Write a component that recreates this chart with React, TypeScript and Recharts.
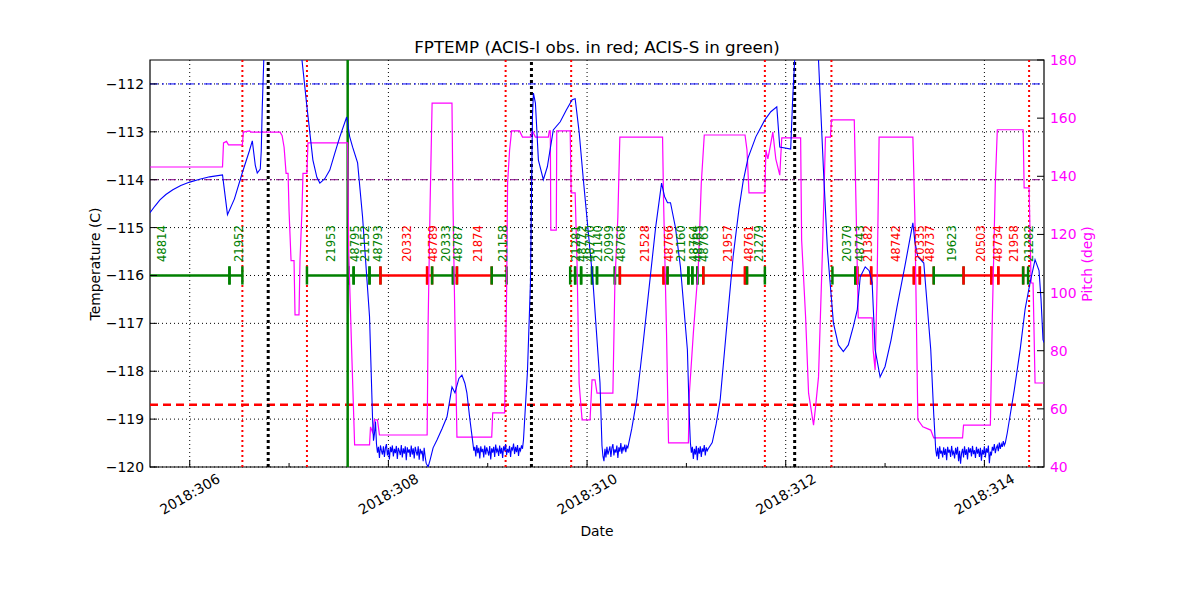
import React from "react"
import {
  ComposedChart, Line, XAxis, YAxis, CartesianGrid, ReferenceLine, ReferenceArea, Scatter,
} from "recharts"

const X_MIN = 305.6
const X_MAX = 314.6
const T_MIN = -120
const T_MAX = -111.5
const BAR_Y = -116
const FONT = "'DejaVu Sans', sans-serif"

const dayTicks = [306, 307, 308, 309, 310, 311, 312, 313, 314]
const gridDays = [306, 308, 310, 312, 314]
const tempTicks = [-120, -119, -118, -117, -116, -115, -114, -113, -112]
const pitchTicks = [40, 60, 80, 100, 120, 140, 160, 180]

// FPTEMP trace, [day of year, deg C]
const tempRise1: [number, number][] = [
  [305.60, -114.69], [305.65, -114.55], [305.70, -114.42], [305.76, -114.31], [305.83, -114.21],
  [305.91, -114.12], [306.00, -114.05], [306.10, -113.99], [306.20, -113.94], [306.33, -113.90],
  [306.38, -114.73], [306.45, -114.40], [306.53, -113.85], [306.60, -113.40], [306.63, -113.19],
  [306.66, -113.70], [306.68, -113.86], [306.71, -113.78], [306.72, -113.40], [306.73, -112.5],
  [306.75, -111.2], [306.77, -110.0], [307.11, -110.0], [307.13, -111.5], [307.18, -112.48],
  [307.24, -113.59], [307.28, -113.95], [307.31, -114.07], [307.36, -113.98], [307.41, -113.80],
  [307.46, -113.45], [307.51, -113.11], [307.58, -112.69], [307.61, -113.10], [307.64, -113.32],
  [307.69, -113.65], [307.74, -114.78], [307.81, -116.86], [307.84, -118.95], [307.85, -119.45],
  [307.86, -119.30], [307.87, -119.05],
]
const tempBump: [number, number][] = [
  [308.40, -120.0], [308.42, -119.85], [308.45, -119.60], [308.49, -119.43], [308.54, -119.20],
  [308.59, -118.95], [308.64, -118.33], [308.67, -118.45], [308.71, -118.15], [308.74, -118.08],
  [308.77, -118.25], [308.79, -118.45], [308.82, -119.00],
]
const tempRise2: [number, number][] = [
  [309.36, -119.43], [309.40, -118.0], [309.43, -116.15], [309.45, -112.69], [309.46, -112.19],
  [309.48, -112.40], [309.51, -113.59], [309.56, -114.00], [309.60, -113.73], [309.66, -112.96],
  [309.73, -112.79], [309.79, -112.55], [309.85, -112.33], [309.88, -112.31], [309.92, -113.00],
  [309.96, -113.94], [310.06, -116.15], [310.13, -118.24],
]
const tempRise3: [number, number][] = [
  [310.45, -119.20], [310.50, -118.60], [310.56, -117.50], [310.63, -116.15], [310.69, -115.00],
  [310.75, -114.07], [310.78, -114.35], [310.81, -114.48], [310.84, -114.48], [310.89, -115.00],
  [310.94, -115.82], [311.01, -117.55], [311.03, -119.00],
]
const tempRise4: [number, number][] = [
  [311.26, -119.49], [311.30, -119.10], [311.34, -118.60], [311.40, -117.20], [311.47, -115.61],
  [311.53, -114.60], [311.57, -114.05], [311.62, -113.55], [311.70, -113.10], [311.79, -112.75],
  [311.85, -112.58], [311.91, -112.48], [311.94, -113.32], [312.05, -113.36], [312.07, -112.30],
  [312.09, -111.5], [312.11, -110.0], [312.31, -110.0], [312.33, -111.5], [312.38, -113.80],
  [312.42, -115.47], [312.48, -116.99], [312.53, -117.45], [312.58, -117.59], [312.63, -117.45],
  [312.68, -117.07], [312.72, -116.72], [312.75, -116.03], [312.80, -115.82], [312.84, -115.90],
  [312.87, -116.15], [312.90, -117.55], [312.95, -118.12], [313.00, -117.90], [313.06, -117.35],
  [313.12, -116.66], [313.20, -115.80], [313.28, -114.90], [313.30, -115.30], [313.33, -115.61],
  [313.39, -115.74], [313.46, -117.55], [313.49, -118.90],
]
const tempRise5: [number, number][] = [
  [314.23, -119.29], [314.30, -118.40], [314.36, -117.55], [314.41, -116.70], [314.46, -116.15],
  [314.51, -115.67], [314.55, -115.90], [314.57, -116.50], [314.59, -117.34], [314.60, -117.40],
]

// cold-floor stretches, sampled every 0.01 day from the given start
const floor1Start = 307.88
const floor1: number[] = [
  -119.52, -119.70, -119.58, -119.81, -119.55, -119.66, -119.74, -119.57, -119.79, -119.60,
  -119.52, -119.76, -119.63, -119.84, -119.58, -119.69, -119.55, -119.78, -119.62, -119.71,
  -119.56, -119.83, -119.60, -119.67, -119.75, -119.54, -119.80, -119.61, -119.72, -119.57,
  -119.86, -119.59, -119.70, -119.63, -119.79, -119.55, -119.74, -119.61, -119.82, -119.58,
  -119.68, -119.76, -119.57, -119.85, -119.62, -119.71, -119.66, -119.88, -119.60, -119.78,
  -119.92,
]
const floor2Start = 308.85
const floor2: number[] = [
  -119.49, -119.66, -119.58, -119.78, -119.54, -119.71, -119.60, -119.82, -119.57, -119.69,
  -119.62, -119.80, -119.55, -119.74, -119.59, -119.67, -119.76, -119.56, -119.84, -119.61,
  -119.70, -119.58, -119.79, -119.53, -119.68, -119.63, -119.77, -119.55, -119.72, -119.60,
  -119.81, -119.57, -119.66, -119.52, -119.75, -119.62, -119.70, -119.56, -119.79, -119.59,
  -119.64, -119.51, -119.73, -119.58, -119.69, -119.54, -119.77, -119.60, -119.66, -119.55,
  -119.62,
]
const floor3Start = 310.15
const floor3: number[] = [
  -119.55, -119.78, -119.88, -119.62, -119.80, -119.58, -119.74, -119.66, -119.57, -119.79,
  -119.60, -119.52, -119.76, -119.63, -119.70, -119.55, -119.81, -119.59, -119.68, -119.50,
  -119.72, -119.58, -119.64, -119.53, -119.69, -119.56, -119.60,
]
const floor4Start = 311.04
const floor4: number[] = [
  -119.49, -119.70, -119.58, -119.83, -119.62, -119.74, -119.56, -119.86, -119.60, -119.72,
  -119.57, -119.79, -119.61, -119.68, -119.54, -119.76, -119.59, -119.66, -119.62,
]
const floor5Start = 313.51
const floor5: number[] = [
  -119.64, -119.78, -119.60, -119.83, -119.57, -119.72, -119.66, -119.80, -119.59, -119.75,
  -119.62, -119.86, -119.58, -119.70, -119.64, -119.79, -119.56, -119.73, -119.68, -119.82,
  -119.60, -119.74, -119.58, -119.88, -119.66, -119.93, -119.71, -119.62, -119.80, -119.57,
  -119.75, -119.63, -119.84, -119.59, -119.70, -119.61, -119.78, -119.56, -119.73, -119.65,
  -119.81, -119.58, -119.72, -119.62, -119.79, -119.60, -119.87, -119.64, -119.74, -119.57,
  -119.80, -119.61, -119.70, -119.55, -119.92, -119.68, -119.76, -119.58, -119.66, -119.52,
  -119.71, -119.60, -119.55, -119.67, -119.49, -119.62, -119.52, -119.58, -119.46, -119.55,
  -119.50,
]

// pitch, [day of year, deg]
const pitchTrace: [number, number][] = [
  [305.60, 143.2], [306.33, 143.2], [306.34, 151.5], [306.37, 152.0], [306.39, 150.8], [306.53, 150.8],
  [306.54, 155.2], [306.60, 155.6], [306.62, 155.2], [306.91, 155.2], [306.93, 154.0], [306.95, 150.0],
  [306.97, 141.0], [306.99, 141.0], [307.00, 128.0], [307.02, 111.0], [307.05, 111.0], [307.06, 92.3],
  [307.10, 92.3], [307.11, 111.0], [307.13, 128.4], [307.14, 141.0], [307.18, 141.0], [307.19, 151.5],
  [307.59, 151.5], [307.60, 114.6], [307.63, 80.2], [307.66, 47.6], [307.81, 47.6], [307.82, 53.8],
  [307.84, 52.0], [307.86, 56.2], [307.89, 56.2], [307.91, 51.0], [308.39, 51.0], [308.40, 89.5],
  [308.42, 130.8], [308.44, 165.2], [308.64, 165.2], [308.65, 131.0], [308.67, 89.0], [308.69, 50.3],
  [309.04, 50.3], [309.05, 58.6], [309.17, 58.6], [309.19, 99.9], [309.20, 137.7], [309.22, 149.0],
  [309.24, 155.6], [309.32, 155.6], [309.35, 153.5], [309.43, 153.5], [309.45, 155.6], [309.48, 153.5],
  [309.61, 153.5], [309.62, 155.6], [309.63, 155.6], [309.635, 121.5], [309.69, 121.5], [309.695, 155.6],
  [309.83, 155.6], [309.84, 134.3], [309.88, 134.3], [309.90, 108.8], [309.92, 68.9], [309.95, 56.2],
  [310.03, 56.2], [310.05, 70.0], [310.08, 70.0], [310.10, 65.4], [310.26, 65.4], [310.28, 103.3],
  [310.31, 126.0], [310.33, 153.5], [310.76, 153.5], [310.77, 131.8], [310.80, 86.1], [310.82, 48.3],
  [311.02, 48.3], [311.03, 65.4], [311.07, 86.1], [311.12, 108.8], [311.15, 137.7], [311.18, 154.2],
  [311.59, 154.2], [311.61, 149.0], [311.63, 134.3], [311.79, 134.3], [311.80, 149.0], [311.82, 146.0],
  [311.84, 149.5], [311.87, 155.2], [311.90, 146.0], [311.94, 140.4], [311.96, 153.2], [312.15, 153.2],
  [312.16, 118.1], [312.20, 91.6], [312.23, 65.4], [312.28, 54.4], [312.30, 60.6], [312.33, 71.0],
  [312.37, 114.6], [312.40, 153.5], [312.45, 153.5], [312.46, 159.4], [312.69, 159.4], [312.71, 126.0],
  [312.73, 91.3], [312.87, 91.3], [312.88, 80.2], [312.90, 73.4], [312.92, 103.3], [312.94, 153.5],
  [313.28, 153.5], [313.30, 126.0], [313.33, 56.2], [313.38, 53.8], [313.46, 52.7], [313.49, 50.0],
  [313.78, 50.0], [313.79, 54.4], [314.06, 54.4], [314.08, 91.6], [314.11, 137.7], [314.13, 156.0],
  [314.39, 156.0], [314.40, 136.0], [314.45, 136.0], [314.47, 103.3], [314.49, 103.3], [314.51, 68.9],
  [314.60, 68.9],
]

// [obsid, start, stop, instrument]
const observations: [string, number, number, "I" | "S"][] = [
  ["48814", 304.97, 306.40, "S"], ["21952", 306.40, 306.53, "S"],
  ["21953", 307.18, 307.60, "S"], ["48795", 307.60, 307.65, "S"], ["21152", 307.65, 307.81, "S"],
  ["48793", 307.81, 307.92, "S"], ["20332", 307.92, 308.39, "I"], ["48789", 308.39, 308.44, "I"],
  ["20333", 308.44, 308.65, "S"], ["48787", 308.65, 308.69, "S"], ["21874", 308.69, 309.04, "I"],
  ["21158", 309.04, 309.19, "S"],
  ["21281", 309.83, 309.88, "S"], ["48772", 309.88, 309.94, "S"], ["48770", 309.94, 310.05, "S"],
  ["21140", 310.05, 310.10, "S"], ["20999", 310.10, 310.28, "S"], ["48768", 310.28, 310.33, "S"],
  ["21528", 310.33, 310.77, "I"], ["48766", 310.77, 310.81, "I"], ["21160", 310.81, 311.02, "S"],
  ["48764", 311.02, 311.06, "S"], ["48765", 311.06, 311.11, "S"], ["48763", 311.11, 311.17, "S"],
  ["21957", 311.17, 311.59, "I"], ["48761", 311.59, 311.61, "I"], ["21279", 311.61, 311.79, "S"],
  ["20370", 312.47, 312.70, "S"], ["48743", 312.70, 312.72, "S"], ["21382", 312.72, 312.86, "I"],
  ["48742", 312.86, 313.29, "I"], ["20335", 313.29, 313.35, "I"], ["48737", 313.35, 313.49, "I"],
  ["19623", 313.49, 313.79, "S"], ["20503", 313.79, 314.07, "I"], ["48734", 314.07, 314.14, "I"],
  ["21958", 314.14, 314.39, "I"], ["21282", 314.39, 314.44, "S"],
]

const radZoneTimes = [306.53, 307.18, 309.18, 309.84, 311.79, 312.46, 314.45]
const perigeeTimes = [306.79, 309.44, 312.09]
const nowTime = 307.59

const sampled = (start: number, vals: number[]): [number, number][] =>
  vals.map((v, i) => [+(start + i * 0.01).toFixed(2), v])

const tempData = [
  ...tempRise1, ...sampled(floor1Start, floor1), ...tempBump, ...sampled(floor2Start, floor2),
  ...tempRise2, ...sampled(floor3Start, floor3), ...tempRise3, ...sampled(floor4Start, floor4),
  ...tempRise4, ...sampled(floor5Start, floor5), ...tempRise5,
].map(([t, v]) => ({ t, temp: v }))
const pitchData = pitchTrace.map(([t, v]) => ({ t, pitch: v }))

const colorOf = (inst: string) => (inst === "I" ? "#ff0000" : "#008000")
const labelData = observations.map(([id, start, stop, inst]) => ({
  t: (start + stop) / 2, temp: -115.72, id, color: colorOf(inst),
}))

const minus = (v: number) => String(v).replace("-", "\u2212")

function DateTick(props: any) {
  const { x, y, payload } = props
  const major = payload.value % 2 === 0
  return (
    <g>
      <line x1={x} y1={y} x2={x} y2={y - (major ? 7 : 4)} stroke="#000" />
      {major && (
        <text x={x} y={y + 27} transform={`rotate(-30, ${x}, ${y + 27})`} textAnchor="middle"
          dominantBaseline="central" fontSize={13.9} fontFamily={FONT} fill="#000">
          {`2018:${payload.value}`}
        </text>
      )}
    </g>
  )
}

function TempTick(props: any) {
  const { x, y, payload } = props
  return (
    <g>
      <line x1={x} y1={y} x2={x + 7} y2={y} stroke="#000" />
      <text x={x - 6} y={y} textAnchor="end" dominantBaseline="central" fontSize={13.9}
        fontFamily={FONT} fill="#000">{minus(payload.value)}</text>
    </g>
  )
}

function PitchTick(props: any) {
  const { x, y, payload } = props
  return (
    <g>
      <line x1={x - 7} y1={y} x2={x} y2={y} stroke="#000" />
      <text x={x + 6} y={y} textAnchor="start" dominantBaseline="central" fontSize={13.9}
        fontFamily={FONT} fill="#ff00ff">{payload.value}</text>
    </g>
  )
}

function ObsLabel(props: any) {
  const { cx, cy, payload } = props
  const x = cx + 3.5
  return (
    <text x={x} y={cy} transform={`rotate(-90, ${x}, ${cy})`} textAnchor="start"
      dominantBaseline="central" fontSize={11.6} fontFamily={FONT} fill={payload.color}>
      {payload.id}
    </text>
  )
}

export default function App() {
  return (
    <div style={{ position: "absolute", left: 0, top: 0, width: 1200, height: 600, background: "#fff" }}>
      <ComposedChart width={1200} height={600} margin={{ top: 60, right: 106, bottom: 73, left: 90 }}>
        <CartesianGrid yAxisId="temp" stroke="#000" strokeDasharray="1 3"
          verticalValues={gridDays} horizontalValues={tempTicks} />
        <XAxis dataKey="t" type="number" domain={[X_MIN, X_MAX]} ticks={dayTicks} interval={0}
          allowDataOverflow axisLine={false} tickLine={false} tickSize={0} tickMargin={0} height={60}
          tick={(p: any) => <DateTick {...p} />} />
        <YAxis yAxisId="temp" orientation="left" type="number" domain={[T_MIN, T_MAX]} ticks={tempTicks}
          interval={0} allowDataOverflow axisLine={false} tickLine={false} tickSize={0} tickMargin={0}
          width={60} tick={(p: any) => <TempTick {...p} />} />
        <YAxis yAxisId="pitch" orientation="right" type="number" domain={[40, 180]} ticks={pitchTicks}
          interval={0} allowDataOverflow axisLine={false} tickLine={false} tickSize={0} tickMargin={0}
          width={50} tick={(p: any) => <PitchTick {...p} />} />

        <ReferenceLine yAxisId="temp" y={-112} stroke="#0000ff" strokeDasharray="8 4 2 4" />
        <ReferenceLine yAxisId="temp" y={-114} stroke="#800080" strokeDasharray="8 4 2 4" />
        <ReferenceLine yAxisId="temp" y={-118.7} stroke="#ff0000" strokeWidth={2.5} strokeDasharray="8 5" />
        {radZoneTimes.map((t) => (
          <ReferenceLine key={`r${t}`} yAxisId="temp" x={t} stroke="#ff0000" strokeWidth={2} strokeDasharray="2 3" />
        ))}
        {perigeeTimes.map((t) => (
          <ReferenceLine key={`p${t}`} yAxisId="temp" x={t} stroke="#000" strokeWidth={3} strokeDasharray="3 3" />
        ))}
        <ReferenceLine yAxisId="temp" x={nowTime} stroke="#008000" strokeWidth={2.5} />

        {observations.map(([id, start, stop, inst]) => (
          <ReferenceLine key={`b${id}`} yAxisId="temp" stroke={colorOf(inst)} strokeWidth={2.5}
            segment={[{ x: Math.max(start, X_MIN), y: BAR_Y }, { x: Math.min(stop, X_MAX), y: BAR_Y }]} />
        ))}
        {observations.flatMap(([id, start, stop, inst]) =>
          [start, stop].filter((t) => t >= X_MIN && t <= X_MAX).map((t, i) => (
            <ReferenceLine key={`k${id}${i}`} yAxisId="temp" stroke={colorOf(inst)} strokeWidth={2.5}
              segment={[{ x: t, y: BAR_Y - 0.19 }, { x: t, y: BAR_Y + 0.19 }]} />
          ))
        )}

        <Line yAxisId="pitch" data={pitchData} dataKey="pitch" type="linear" stroke="#ff00ff"
          strokeWidth={1.2} dot={false} activeDot={false} isAnimationActive={false} />
        <Line yAxisId="temp" data={tempData} dataKey="temp" type="linear" stroke="#0000ff"
          strokeWidth={1.1} dot={false} activeDot={false} isAnimationActive={false} />
        <Scatter yAxisId="temp" data={labelData} dataKey="temp" isAnimationActive={false}
          shape={(p: any) => <ObsLabel {...p} />} />

        <ReferenceArea yAxisId="temp" x1={X_MIN} x2={X_MAX} y1={T_MIN} y2={T_MAX} fill="none"
          fillOpacity={0} stroke="#000" strokeWidth={1.2} ifOverflow="visible" />
      </ComposedChart>
      <svg width={1200} height={600} style={{ position: "absolute", left: 0, top: 0, pointerEvents: "none" }}>
        <text x={597} y={47} textAnchor="middle" dominantBaseline="central" fontSize={16.7} fontFamily={FONT}>
          FPTEMP (ACIS-I obs. in red; ACIS-S in green)
        </text>
        <text x={597} y={531} textAnchor="middle" dominantBaseline="central" fontSize={13.9} fontFamily={FONT}>
          Date
        </text>
        <text x={95} y={264} transform="rotate(-90, 95, 264)" textAnchor="middle" dominantBaseline="central"
          fontSize={13.9} fontFamily={FONT}>
          Temperature (C)
        </text>
        <text x={1087} y={264} transform="rotate(-90, 1087, 264)" textAnchor="middle" dominantBaseline="central"
          fontSize={13.9} fontFamily={FONT} fill="#ff00ff">
          Pitch (deg)
        </text>
      </svg>
    </div>
  )
}
